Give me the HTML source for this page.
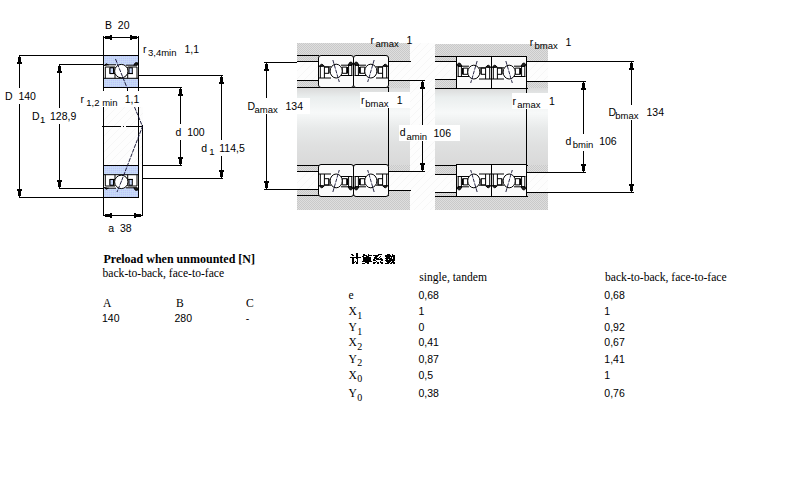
<!DOCTYPE html>
<html><head><meta charset="utf-8"><style>
html,body{margin:0;padding:0;background:#fff}
body{width:800px;height:500px;position:relative;overflow:hidden}
svg{position:absolute;left:0;top:0}
.s{font-family:"Liberation Sans",sans-serif;font-size:10.5px}
.sb{font-family:"Liberation Sans",sans-serif;font-size:9.5px}
.r{font-family:"Liberation Serif",serif;font-size:11.6px}
.rb{font-family:"Liberation Serif",serif;font-size:12px;font-weight:bold}
</style></head><body>
<svg width="800" height="500" viewBox="0 0 800 500">
<defs>
<linearGradient id="shaft" gradientUnits="userSpaceOnUse" x1="0" y1="88" x2="0" y2="165">
<stop offset="0" stop-color="#dadada"/>
<stop offset="0.12" stop-color="#eaeeee"/>
<stop offset="0.32" stop-color="#f7f9f9"/>
<stop offset="0.52" stop-color="#e8eaea"/>
<stop offset="0.75" stop-color="#dfe0e0"/>
<stop offset="1" stop-color="#d9d9d9"/>
</linearGradient>
<pattern id="hatch" patternUnits="userSpaceOnUse" width="8" height="8">
<rect width="8" height="8" fill="#fdfdfd"/>
<path d="M-1 9 L9 -1" stroke="#f2f2f2" stroke-width="0.6"/>
</pattern>
<pattern id="chk" patternUnits="userSpaceOnUse" width="2" height="2">
<rect width="2" height="2" fill="#dedede"/>
<rect width="1" height="1" fill="#c9c9c9"/><rect x="1" y="1" width="1" height="1" fill="#c9c9c9"/>
</pattern>
<pattern id="blu" patternUnits="userSpaceOnUse" width="2" height="2">
<rect width="2" height="2" fill="#d0ccf8"/>
<rect x="1" width="1" height="1" fill="#bde8f6"/><rect y="1" width="1" height="1" fill="#b4d0f8"/>
</pattern>
</defs>

<g shape-rendering="crispEdges">
<rect x="103" y="36" width="1" height="19" fill="#000" />
<rect x="138" y="36" width="1" height="19" fill="#000" />
<rect x="103" y="37" width="36" height="1" fill="#000" />
<rect x="104" y="37" width="1" height="1" fill="#000" />
<rect x="105" y="36" width="5" height="3" fill="#000" />
<rect x="110" y="35" width="2" height="5" fill="#000" />
<rect x="137" y="37" width="1" height="1" fill="#000" />
<rect x="132" y="36" width="5" height="3" fill="#000" />
<rect x="130" y="35" width="2" height="5" fill="#000" />
<rect x="19" y="55" width="84" height="1" fill="#000" />
<rect x="19" y="55" width="1" height="33" fill="#000" />
<rect x="19" y="104" width="1" height="94" fill="#000" />
<rect x="19" y="197" width="84" height="1" fill="#000" />
<rect x="19" y="56" width="1" height="1" fill="#000" />
<rect x="18" y="57" width="3" height="5" fill="#000" />
<rect x="17" y="62" width="5" height="2" fill="#000" />
<rect x="19" y="196" width="1" height="1" fill="#000" />
<rect x="18" y="191" width="3" height="5" fill="#000" />
<rect x="17" y="189" width="5" height="2" fill="#000" />
<rect x="59" y="64" width="44" height="1" fill="#000" />
<rect x="59" y="64" width="1" height="44" fill="#000" />
<rect x="59" y="124" width="1" height="65" fill="#000" />
<rect x="59" y="188" width="44" height="1" fill="#000" />
<rect x="59" y="65" width="1" height="1" fill="#000" />
<rect x="58" y="66" width="3" height="5" fill="#000" />
<rect x="57" y="71" width="5" height="2" fill="#000" />
<rect x="59" y="187" width="1" height="1" fill="#000" />
<rect x="58" y="182" width="3" height="5" fill="#000" />
<rect x="57" y="180" width="5" height="2" fill="#000" />
<rect x="139" y="75" width="84" height="1" fill="#000" />
<rect x="221" y="75" width="1" height="65" fill="#000" />
<rect x="221" y="156" width="1" height="23" fill="#000" />
<rect x="143" y="178" width="80" height="1" fill="#000" />
<rect x="221" y="76" width="1" height="1" fill="#000" />
<rect x="220" y="77" width="3" height="5" fill="#000" />
<rect x="219" y="82" width="5" height="2" fill="#000" />
<rect x="221" y="177" width="1" height="1" fill="#000" />
<rect x="220" y="172" width="3" height="5" fill="#000" />
<rect x="219" y="170" width="5" height="2" fill="#000" />
<rect x="139" y="87" width="43" height="1" fill="#000" />
<rect x="180" y="87" width="1" height="37" fill="#000" />
<rect x="180" y="140" width="1" height="26" fill="#000" />
<rect x="143" y="165" width="39" height="1" fill="#000" />
<rect x="180" y="88" width="1" height="1" fill="#000" />
<rect x="179" y="89" width="3" height="5" fill="#000" />
<rect x="178" y="94" width="5" height="2" fill="#000" />
<rect x="180" y="164" width="1" height="1" fill="#000" />
<rect x="179" y="159" width="3" height="5" fill="#000" />
<rect x="178" y="157" width="5" height="2" fill="#000" />
<rect x="103" y="107" width="40" height="58" fill="url(#hatch)" />
<rect x="103" y="107" width="1" height="59" fill="#000" />
<rect x="138" y="107" width="1" height="59" fill="#000" />
<rect x="142" y="125" width="1" height="91" fill="#000" />
<rect x="103" y="197" width="1" height="19" fill="#000" />
<rect x="103" y="88" width="1" height="3" fill="#000" />
<rect x="138" y="88" width="1" height="3" fill="#000" />
<rect x="127" y="88" width="1" height="3" fill="#000" />
<rect x="103" y="215" width="40" height="1" fill="#000" />
<rect x="104" y="215" width="1" height="1" fill="#000" />
<rect x="105" y="214" width="5" height="3" fill="#000" />
<rect x="110" y="213" width="2" height="5" fill="#000" />
<rect x="141" y="215" width="1" height="1" fill="#000" />
<rect x="136" y="214" width="5" height="3" fill="#000" />
<rect x="134" y="213" width="2" height="5" fill="#000" />
</g>
<path d="M101.5 126.5 H121 M123 126.5 H124 M126 126.5 H142" stroke="#000" stroke-width="1" shape-rendering="crispEdges"/>
<g transform="translate(103,55) scale(1,1)" fill="none" stroke="#000" stroke-width="1">
<rect x="0.5" y="0.5" width="35" height="32" fill="url(#blu)" stroke-width="1"/>
<path d="M1 10 L6 9.8 L31 10.2 L35 9.5 L35 23.3 L1 23.3 Z" fill="#fff" stroke="none"/>
<path d="M1.2 10.5 Q3 7.6 5.4 9.8 Z" fill="#222"/>
<path d="M30.8 10.3 Q32 6.6 34.5 7.8 L34.3 10.3 Z" fill="#222"/>
<path d="M5 9.8 H13 M23 10.2 H31 M1 23.3 H35"/>
<path d="M2.3 12 H12 V23.3 M2.3 12 V23.3 M7 12.8 H10.5 V18.5 H7 Z M6.8 18.6 H12" fill="none"/>
<rect x="7" y="12.8" width="3.5" height="5.7" fill="url(#blu)"/>
<rect x="26" y="12.8" width="3.3" height="5.7" fill="url(#blu)"/>
<path d="M24.7 12 H34 V23.3 M24.7 12 V23.3 M24.7 18.6 H30" fill="none"/>
<circle cx="18.3" cy="16.1" r="6.7" fill="#fff"/>
</g>
<g transform="translate(103,198) scale(1,-1)" fill="none" stroke="#000" stroke-width="1">
<rect x="0.5" y="0.5" width="35" height="32" fill="url(#blu)" stroke-width="1"/>
<path d="M1 10 L6 9.8 L31 10.2 L35 9.5 L35 23.3 L1 23.3 Z" fill="#fff" stroke="none"/>
<path d="M1.2 10.5 Q3 7.6 5.4 9.8 Z" fill="#222"/>
<path d="M30.8 10.3 Q32 6.6 34.5 7.8 L34.3 10.3 Z" fill="#222"/>
<path d="M5 9.8 H13 M23 10.2 H31 M1 23.3 H35"/>
<path d="M2.3 12 H12 V23.3 M2.3 12 V23.3 M7 12.8 H10.5 V18.5 H7 Z M6.8 18.6 H12" fill="none"/>
<rect x="7" y="12.8" width="3.5" height="5.7" fill="url(#blu)"/>
<rect x="26" y="12.8" width="3.3" height="5.7" fill="url(#blu)"/>
<path d="M24.7 12 H34 V23.3 M24.7 12 V23.3 M24.7 18.6 H30" fill="none"/>
<circle cx="18.3" cy="16.1" r="6.7" fill="#fff"/>
</g>
<path d="M115.5 59 L127.3 88.5 M134.5 107 L142.5 126.5 L121.5 181" stroke="#113" stroke-width="0.95" fill="none" stroke-dasharray="4 1"/>
<path d="M121.5 181 L117 192" stroke="#113" stroke-width="0.95" fill="none" stroke-dasharray="4 1"/>
<g shape-rendering="crispEdges">
<rect x="410" y="43" width="25" height="167" fill="url(#hatch)" />
<rect x="297" y="43" width="113" height="19" fill="url(#chk)" />
<rect x="297" y="190" width="113" height="20" fill="url(#chk)" />
<rect x="297" y="62" width="21" height="18" fill="url(#hatch)" />
<rect x="388" y="62" width="22" height="18" fill="url(#hatch)" />
<rect x="297" y="172" width="21" height="18" fill="url(#hatch)" />
<rect x="388" y="172" width="22" height="18" fill="url(#hatch)" />
<rect x="297" y="80" width="21" height="8" fill="url(#chk)" />
<rect x="297" y="165" width="21" height="7" fill="url(#chk)" />
<rect x="388" y="80" width="22" height="8" fill="url(#chk)" />
<rect x="388" y="165" width="22" height="7" fill="url(#chk)" />
<rect x="388" y="88" width="22" height="77" fill="url(#shaft)" />
<rect x="297" y="88" width="91" height="77" fill="url(#shaft)" />
<rect x="297" y="55" width="22" height="1" fill="#000" />
<rect x="297" y="61" width="22" height="1" fill="#000" />
<rect x="388" y="61" width="23" height="1" fill="#000" />
<rect x="297" y="80" width="22" height="1" fill="#000" />
<rect x="388" y="80" width="23" height="1" fill="#000" />
<rect x="297" y="87" width="92" height="1" fill="#000" />
<rect x="297" y="165" width="92" height="1" fill="#000" />
<rect x="297" y="171" width="22" height="1" fill="#000" />
<rect x="388" y="171" width="23" height="1" fill="#000" />
<rect x="297" y="189" width="22" height="1" fill="#000" />
<rect x="388" y="190" width="23" height="1" fill="#000" />
<rect x="297" y="195" width="92" height="1" fill="#000" />
<rect x="388" y="87" width="1" height="79" fill="#000" />
<rect x="264" y="62" width="33" height="1" fill="#000" />
<rect x="266" y="62" width="1" height="36" fill="#000" />
<rect x="266" y="114" width="1" height="76" fill="#000" />
<rect x="264" y="189" width="33" height="1" fill="#000" />
<rect x="266" y="63" width="1" height="1" fill="#000" />
<rect x="265" y="64" width="3" height="5" fill="#000" />
<rect x="264" y="69" width="5" height="2" fill="#000" />
<rect x="266" y="188" width="1" height="1" fill="#000" />
<rect x="265" y="183" width="3" height="5" fill="#000" />
<rect x="264" y="181" width="5" height="2" fill="#000" />
<rect x="411" y="80" width="14" height="1" fill="#000" />
<rect x="422" y="80" width="1" height="45" fill="#000" />
<rect x="422" y="141" width="1" height="31" fill="#000" />
<rect x="411" y="171" width="14" height="1" fill="#000" />
<rect x="422" y="81" width="1" height="1" fill="#000" />
<rect x="421" y="82" width="3" height="5" fill="#000" />
<rect x="420" y="87" width="5" height="2" fill="#000" />
<rect x="422" y="170" width="1" height="1" fill="#000" />
<rect x="421" y="165" width="3" height="5" fill="#000" />
<rect x="420" y="163" width="5" height="2" fill="#000" />
</g>
<g transform="translate(318,55) scale(1,1)" fill="none" stroke="#000" stroke-width="1">
<rect x="0.5" y="0.5" width="35" height="32" fill="#fbfbfb" stroke-width="1" rx="2.5"/>
<path d="M1 11.8 L13 11.8 L23 10.2 L30 10.2 L34.5 9 L34.5 20.5 L24 20.5 L12 23 L1 23 Z" fill="#fff" stroke="none"/>
<path d="M1.3 11.5 Q3.5 7.2 6.2 11.2 Z" fill="#222"/>
<path d="M6 11.8 H13 M2.3 11.5 V23 M6.4 11.8 V23 M1 23 H13"/>
<path d="M6.4 12.1 H10.9 V18.3 H6.4 M10.9 12.1 V18.3"/>
<path d="M23 10.2 H30.2 M24.2 12.1 H28.9 V18.3 H24.2 Z M23 20.5 H34.5"/>
<path d="M29.2 12 V18.6" stroke-width="1.6"/>
<path d="M30 10.4 Q32 5.2 34.6 8.2 L34 10.4 Z" fill="#222"/>
<path d="M30.6 10.2 V20.5 M33.8 9 V20.5"/>
<ellipse cx="18.2" cy="16.1" rx="6.1" ry="6.9" fill="#fff"/>
<path d="M14.85 5 L21.30 27" stroke="#113" stroke-width="0.9" stroke-dasharray="4 1"/>
</g>
<g transform="translate(318,197) scale(1,-1)" fill="none" stroke="#000" stroke-width="1">
<rect x="0.5" y="0.5" width="35" height="32" fill="#fbfbfb" stroke-width="1" rx="2.5"/>
<path d="M1 11.8 L13 11.8 L23 10.2 L30 10.2 L34.5 9 L34.5 20.5 L24 20.5 L12 23 L1 23 Z" fill="#fff" stroke="none"/>
<path d="M1.3 11.5 Q3.5 7.2 6.2 11.2 Z" fill="#222"/>
<path d="M6 11.8 H13 M2.3 11.5 V23 M6.4 11.8 V23 M1 23 H13"/>
<path d="M6.4 12.1 H10.9 V18.3 H6.4 M10.9 12.1 V18.3"/>
<path d="M23 10.2 H30.2 M24.2 12.1 H28.9 V18.3 H24.2 Z M23 20.5 H34.5"/>
<path d="M29.2 12 V18.6" stroke-width="1.6"/>
<path d="M30 10.4 Q32 5.2 34.6 8.2 L34 10.4 Z" fill="#222"/>
<path d="M30.6 10.2 V20.5 M33.8 9 V20.5"/>
<ellipse cx="18.2" cy="16.1" rx="6.1" ry="6.9" fill="#fff"/>
<path d="M14.85 5 L21.30 27" stroke="#113" stroke-width="0.9" stroke-dasharray="4 1"/>
</g>
<g transform="translate(389,55) scale(-1,1)" fill="none" stroke="#000" stroke-width="1">
<rect x="0.5" y="0.5" width="35" height="32" fill="#fbfbfb" stroke-width="1" rx="2.5"/>
<path d="M1 11.8 L13 11.8 L23 10.2 L30 10.2 L34.5 9 L34.5 20.5 L24 20.5 L12 23 L1 23 Z" fill="#fff" stroke="none"/>
<path d="M1.3 11.5 Q3.5 7.2 6.2 11.2 Z" fill="#222"/>
<path d="M6 11.8 H13 M2.3 11.5 V23 M6.4 11.8 V23 M1 23 H13"/>
<path d="M6.4 12.1 H10.9 V18.3 H6.4 M10.9 12.1 V18.3"/>
<path d="M23 10.2 H30.2 M24.2 12.1 H28.9 V18.3 H24.2 Z M23 20.5 H34.5"/>
<path d="M29.2 12 V18.6" stroke-width="1.6"/>
<path d="M30 10.4 Q32 5.2 34.6 8.2 L34 10.4 Z" fill="#222"/>
<path d="M30.6 10.2 V20.5 M33.8 9 V20.5"/>
<ellipse cx="18.2" cy="16.1" rx="6.1" ry="6.9" fill="#fff"/>
<path d="M14.85 5 L21.30 27" stroke="#113" stroke-width="0.9" stroke-dasharray="4 1"/>
</g>
<g transform="translate(389,197) scale(-1,-1)" fill="none" stroke="#000" stroke-width="1">
<rect x="0.5" y="0.5" width="35" height="32" fill="#fbfbfb" stroke-width="1" rx="2.5"/>
<path d="M1 11.8 L13 11.8 L23 10.2 L30 10.2 L34.5 9 L34.5 20.5 L24 20.5 L12 23 L1 23 Z" fill="#fff" stroke="none"/>
<path d="M1.3 11.5 Q3.5 7.2 6.2 11.2 Z" fill="#222"/>
<path d="M6 11.8 H13 M2.3 11.5 V23 M6.4 11.8 V23 M1 23 H13"/>
<path d="M6.4 12.1 H10.9 V18.3 H6.4 M10.9 12.1 V18.3"/>
<path d="M23 10.2 H30.2 M24.2 12.1 H28.9 V18.3 H24.2 Z M23 20.5 H34.5"/>
<path d="M29.2 12 V18.6" stroke-width="1.6"/>
<path d="M30 10.4 Q32 5.2 34.6 8.2 L34 10.4 Z" fill="#222"/>
<path d="M30.6 10.2 V20.5 M33.8 9 V20.5"/>
<ellipse cx="18.2" cy="16.1" rx="6.1" ry="6.9" fill="#fff"/>
<path d="M14.85 5 L21.30 27" stroke="#113" stroke-width="0.9" stroke-dasharray="4 1"/>
</g>
<g shape-rendering="crispEdges">
<rect x="435" y="44" width="113" height="18" fill="url(#chk)" />
<rect x="435" y="192" width="113" height="18" fill="url(#chk)" />
<rect x="435" y="62" width="21" height="17" fill="url(#hatch)" />
<rect x="527" y="62" width="21" height="19" fill="url(#hatch)" />
<rect x="435" y="175" width="21" height="17" fill="url(#hatch)" />
<rect x="527" y="173" width="21" height="19" fill="url(#hatch)" />
<rect x="435" y="79" width="21" height="9" fill="url(#chk)" />
<rect x="435" y="165" width="21" height="10" fill="url(#chk)" />
<rect x="527" y="81" width="21" height="7" fill="url(#chk)" />
<rect x="527" y="165" width="21" height="8" fill="url(#chk)" />
<rect x="527" y="88" width="21" height="77" fill="url(#shaft)" />
<rect x="435" y="88" width="92" height="77" fill="url(#shaft)" />
<rect x="435" y="56" width="22" height="1" fill="#000" />
<rect x="435" y="61" width="22" height="1" fill="#000" />
<rect x="527" y="61" width="22" height="1" fill="#000" />
<rect x="435" y="79" width="22" height="1" fill="#000" />
<rect x="527" y="81" width="22" height="1" fill="#000" />
<rect x="435" y="88" width="93" height="1" fill="#000" />
<rect x="435" y="165" width="93" height="1" fill="#000" />
<rect x="435" y="174" width="22" height="1" fill="#000" />
<rect x="527" y="172" width="22" height="1" fill="#000" />
<rect x="435" y="192" width="22" height="1" fill="#000" />
<rect x="527" y="192" width="22" height="1" fill="#000" />
<rect x="435" y="196" width="93" height="1" fill="#000" />
<rect x="526" y="88" width="1" height="78" fill="#000" />
<rect x="549" y="81" width="37" height="1" fill="#000" />
<rect x="583" y="81" width="1" height="53" fill="#000" />
<rect x="583" y="151" width="1" height="22" fill="#000" />
<rect x="549" y="172" width="37" height="1" fill="#000" />
<rect x="583" y="82" width="1" height="1" fill="#000" />
<rect x="582" y="83" width="3" height="5" fill="#000" />
<rect x="581" y="88" width="5" height="2" fill="#000" />
<rect x="583" y="171" width="1" height="1" fill="#000" />
<rect x="582" y="166" width="3" height="5" fill="#000" />
<rect x="581" y="164" width="5" height="2" fill="#000" />
<rect x="549" y="61" width="85" height="1" fill="#000" />
<rect x="631" y="61" width="1" height="44" fill="#000" />
<rect x="631" y="120" width="1" height="73" fill="#000" />
<rect x="549" y="192" width="85" height="1" fill="#000" />
<rect x="631" y="62" width="1" height="1" fill="#000" />
<rect x="630" y="63" width="3" height="5" fill="#000" />
<rect x="629" y="68" width="5" height="2" fill="#000" />
<rect x="631" y="191" width="1" height="1" fill="#000" />
<rect x="630" y="186" width="3" height="5" fill="#000" />
<rect x="629" y="184" width="5" height="2" fill="#000" />
</g>
<g transform="translate(492,56) scale(-1,1)" fill="none" stroke="#000" stroke-width="1">
<rect x="0.5" y="0.5" width="35" height="32" fill="#fbfbfb" stroke-width="1" rx="0"/>
<path d="M1 11.8 L13 11.8 L23 10.2 L30 10.2 L34.5 9 L34.5 20.5 L24 20.5 L12 23 L1 23 Z" fill="#fff" stroke="none"/>
<path d="M1.3 11.5 Q3.5 7.2 6.2 11.2 Z" fill="#222"/>
<path d="M6 11.8 H13 M2.3 11.5 V23 M6.4 11.8 V23 M1 23 H13"/>
<path d="M6.4 12.1 H10.9 V18.3 H6.4 M10.9 12.1 V18.3"/>
<path d="M23 10.2 H30.2 M24.2 12.1 H28.9 V18.3 H24.2 Z M23 20.5 H34.5"/>
<path d="M29.2 12 V18.6" stroke-width="1.6"/>
<path d="M30 10.4 Q32 5.2 34.6 8.2 L34 10.4 Z" fill="#222"/>
<path d="M30.6 10.2 V20.5 M33.8 9 V20.5"/>
<ellipse cx="18.2" cy="16.1" rx="6.1" ry="6.9" fill="#fff"/>
<path d="M14.85 5 L21.30 27" stroke="#113" stroke-width="0.9" stroke-dasharray="4 1"/>
</g>
<g transform="translate(492,197) scale(-1,-1)" fill="none" stroke="#000" stroke-width="1">
<rect x="0.5" y="0.5" width="35" height="32" fill="#fbfbfb" stroke-width="1" rx="0"/>
<path d="M1 11.8 L13 11.8 L23 10.2 L30 10.2 L34.5 9 L34.5 20.5 L24 20.5 L12 23 L1 23 Z" fill="#fff" stroke="none"/>
<path d="M1.3 11.5 Q3.5 7.2 6.2 11.2 Z" fill="#222"/>
<path d="M6 11.8 H13 M2.3 11.5 V23 M6.4 11.8 V23 M1 23 H13"/>
<path d="M6.4 12.1 H10.9 V18.3 H6.4 M10.9 12.1 V18.3"/>
<path d="M23 10.2 H30.2 M24.2 12.1 H28.9 V18.3 H24.2 Z M23 20.5 H34.5"/>
<path d="M29.2 12 V18.6" stroke-width="1.6"/>
<path d="M30 10.4 Q32 5.2 34.6 8.2 L34 10.4 Z" fill="#222"/>
<path d="M30.6 10.2 V20.5 M33.8 9 V20.5"/>
<ellipse cx="18.2" cy="16.1" rx="6.1" ry="6.9" fill="#fff"/>
<path d="M14.85 5 L21.30 27" stroke="#113" stroke-width="0.9" stroke-dasharray="4 1"/>
</g>
<g transform="translate(491,56) scale(1,1)" fill="none" stroke="#000" stroke-width="1">
<rect x="0.5" y="0.5" width="35" height="32" fill="#fbfbfb" stroke-width="1" rx="0"/>
<path d="M1 11.8 L13 11.8 L23 10.2 L30 10.2 L34.5 9 L34.5 20.5 L24 20.5 L12 23 L1 23 Z" fill="#fff" stroke="none"/>
<path d="M1.3 11.5 Q3.5 7.2 6.2 11.2 Z" fill="#222"/>
<path d="M6 11.8 H13 M2.3 11.5 V23 M6.4 11.8 V23 M1 23 H13"/>
<path d="M6.4 12.1 H10.9 V18.3 H6.4 M10.9 12.1 V18.3"/>
<path d="M23 10.2 H30.2 M24.2 12.1 H28.9 V18.3 H24.2 Z M23 20.5 H34.5"/>
<path d="M29.2 12 V18.6" stroke-width="1.6"/>
<path d="M30 10.4 Q32 5.2 34.6 8.2 L34 10.4 Z" fill="#222"/>
<path d="M30.6 10.2 V20.5 M33.8 9 V20.5"/>
<ellipse cx="18.2" cy="16.1" rx="6.1" ry="6.9" fill="#fff"/>
<path d="M14.85 5 L21.30 27" stroke="#113" stroke-width="0.9" stroke-dasharray="4 1"/>
</g>
<g transform="translate(491,197) scale(1,-1)" fill="none" stroke="#000" stroke-width="1">
<rect x="0.5" y="0.5" width="35" height="32" fill="#fbfbfb" stroke-width="1" rx="0"/>
<path d="M1 11.8 L13 11.8 L23 10.2 L30 10.2 L34.5 9 L34.5 20.5 L24 20.5 L12 23 L1 23 Z" fill="#fff" stroke="none"/>
<path d="M1.3 11.5 Q3.5 7.2 6.2 11.2 Z" fill="#222"/>
<path d="M6 11.8 H13 M2.3 11.5 V23 M6.4 11.8 V23 M1 23 H13"/>
<path d="M6.4 12.1 H10.9 V18.3 H6.4 M10.9 12.1 V18.3"/>
<path d="M23 10.2 H30.2 M24.2 12.1 H28.9 V18.3 H24.2 Z M23 20.5 H34.5"/>
<path d="M29.2 12 V18.6" stroke-width="1.6"/>
<path d="M30 10.4 Q32 5.2 34.6 8.2 L34 10.4 Z" fill="#222"/>
<path d="M30.6 10.2 V20.5 M33.8 9 V20.5"/>
<ellipse cx="18.2" cy="16.1" rx="6.1" ry="6.9" fill="#fff"/>
<path d="M14.85 5 L21.30 27" stroke="#113" stroke-width="0.9" stroke-dasharray="4 1"/>
</g>
<g shape-rendering="crispEdges">
<rect x="244" y="98" width="66" height="16" fill="#fff" />
<rect x="360" y="92" width="50" height="16" fill="#fff" />
<rect x="399" y="125" width="61" height="16" fill="#fff" />
<rect x="512" y="93" width="36" height="16" fill="#fff" />
</g>
<text x="105" y="28.5" class="s" >B&#160;&#160;20</text>
<text x="143" y="52.5" class="s" >r</text>
<text x="148" y="55.6" class="sb" >3,4min</text>
<text x="184.5" y="52.5" class="s" >1,1</text>
<text x="5" y="99.6" class="s" >D&#160;&#160;140</text>
<text x="32" y="119.5" class="s" >D</text>
<text x="40" y="123" class="sb" >1</text>
<text x="50" y="119.5" class="s" >128,9</text>
<text x="80.5" y="102.5" class="s" >r</text>
<text x="86.3" y="105.7" class="sb" >1,2 min</text>
<text x="124.7" y="102.5" class="s" >1,1</text>
<text x="175.5" y="135.7" class="s" >d&#160;&#160;100</text>
<text x="201.3" y="152" class="s" >d</text>
<text x="209.3" y="154.6" class="sb" >1</text>
<text x="219.3" y="152" class="s" >114,5</text>
<text x="108.3" y="231.8" class="s" >a&#160;&#160;38</text>
<text x="370.5" y="43.5" class="s" >r</text>
<text x="375.5" y="46.5" class="sb" >amax</text>
<text x="406.5" y="43.5" class="s" >1</text>
<text x="247.5" y="109.5" class="s" >D</text>
<text x="254.5" y="112.8" class="sb" >amax</text>
<text x="285.5" y="109.5" class="s" >134</text>
<text x="361" y="103.7" class="s" >r</text>
<text x="365.2" y="106.7" class="sb" >bmax</text>
<text x="396.7" y="103.7" class="s" >1</text>
<text x="399.7" y="136" class="s" >d</text>
<text x="406.5" y="139.7" class="sb" >amin</text>
<text x="433.5" y="136.7" class="s" >106</text>
<text x="529.7" y="45.8" class="s" >r</text>
<text x="534.5" y="48.8" class="sb" >bmax</text>
<text x="565.6" y="45.8" class="s" >1</text>
<text x="512.4" y="104.5" class="s" >r</text>
<text x="517.2" y="107.8" class="sb" >amax</text>
<text x="549" y="104.5" class="s" >1</text>
<text x="565.5" y="145" class="s" >d</text>
<text x="572.7" y="147.7" class="sb" >bmin</text>
<text x="599.2" y="145" class="s" >106</text>
<text x="608.5" y="116" class="s" >D</text>
<text x="615.3" y="119" class="sb" >bmax</text>
<text x="646.5" y="116" class="s" >134</text>
<text x="103.5" y="262.8" class="rb" >Preload when unmounted [N]</text>
<text x="102.5" y="276.5" class="r" >back-to-back, face-to-face</text>
<text x="103" y="306.6" class="r" >A</text>
<text x="176" y="306.6" class="r" >B</text>
<text x="246" y="306.6" class="r" >C</text>
<text x="102" y="321.9" class="s" >140</text>
<text x="174.5" y="321.9" class="s" >280</text>
<text x="245.8" y="321.9" class="s" >-</text>
<text x="419.3" y="281" class="r" >single, tandem</text>
<text x="605" y="281" class="r" >back-to-back, face-to-face</text>
<text x="348.5" y="299" class="r" >e</text>
<text x="418.5" y="299" class="s" >0,68</text>
<text x="604.3" y="299" class="s" >0,68</text>
<text x="348.5" y="315" class="r" >X</text>
<text x="357.3" y="318.7" class="r" style='font-size:10px'>1</text>
<text x="418.5" y="315" class="s" >1</text>
<text x="604.3" y="315" class="s" >1</text>
<text x="348.5" y="331" class="r" >Y</text>
<text x="357.3" y="334.7" class="r" style='font-size:10px'>1</text>
<text x="418.5" y="331" class="s" >0</text>
<text x="604.3" y="331" class="s" >0,92</text>
<text x="348.5" y="346" class="r" >X</text>
<text x="357.3" y="349.7" class="r" style='font-size:10px'>2</text>
<text x="418.5" y="346" class="s" >0,41</text>
<text x="604.3" y="346" class="s" >0,67</text>
<text x="348.5" y="362.5" class="r" >Y</text>
<text x="357.3" y="366.2" class="r" style='font-size:10px'>2</text>
<text x="418.5" y="362.5" class="s" >0,87</text>
<text x="604.3" y="362.5" class="s" >1,41</text>
<text x="348.5" y="378.5" class="r" >X</text>
<text x="357.3" y="382.2" class="r" style='font-size:10px'>0</text>
<text x="418.5" y="378.5" class="s" >0,5</text>
<text x="604.3" y="378.5" class="s" >1</text>
<text x="348.5" y="397" class="r" >Y</text>
<text x="357.3" y="400.7" class="r" style='font-size:10px'>0</text>
<text x="418.5" y="397" class="s" >0,38</text>
<text x="604.3" y="397" class="s" >0,76</text>
<path shape-rendering="crispEdges" fill="#000" d="M356 253h2v1h-2zM351 254h2v1h-2zM356 254h2v1h-2zM352 255h2v1h-2zM356 255h2v1h-2zM356 256h2v1h-2zM350 257h11v1h-11zM352 258h2v1h-2zM356 258h2v1h-2zM352 259h2v1h-2zM357 259h1v1h-1zM352 260h2v1h-2zM357 260h1v1h-1zM352 261h2v1h-2zM355 261h1v1h-1zM357 261h1v1h-1zM352 262h3v1h-3zM356 262h2v1h-2zM352 263h2v1h-2zM356 263h2v1h-2zM363 254h2v1h-2zM368 254h1v1h-1zM363 255h4v1h-4zM368 255h4v1h-4zM362 256h2v1h-2zM366 256h3v1h-3zM363 257h8v1h-8zM363 258h8v1h-8zM363 259h8v1h-8zM363 260h8v1h-8zM362 261h10v1h-10zM365 262h4v1h-4zM362 263h3v1h-3zM367 263h2v1h-2zM378 254h4v1h-4zM373 255h6v1h-6zM375 256h3v1h-3zM380 256h1v1h-1zM374 257h3v1h-3zM379 257h1v1h-1zM374 258h5v1h-5zM380 258h2v1h-2zM373 259h2v1h-2zM376 259h7v1h-7zM373 260h3v1h-3zM381 260h2v1h-2zM376 261h1v1h-1zM380 261h1v1h-1zM373 262h3v1h-3zM377 262h2v1h-2zM380 262h3v1h-3zM373 263h2v1h-2zM377 263h2v1h-2zM381 263h2v1h-2zM387 254h3v1h-3zM392 254h1v1h-1zM385 255h6v1h-6zM392 255h3v1h-3zM385 256h10v1h-10zM386 257h4v1h-4zM391 257h1v1h-1zM393 257h2v1h-2zM385 258h7v1h-7zM393 258h2v1h-2zM386 259h2v1h-2zM389 259h6v1h-6zM385 260h10v1h-10zM386 261h5v1h-5zM392 261h2v1h-2zM387 262h3v1h-3zM391 262h4v1h-4zM385 263h4v1h-4zM390 263h2v1h-2zM393 263h2v1h-2z"/>
</svg>
</body></html>
